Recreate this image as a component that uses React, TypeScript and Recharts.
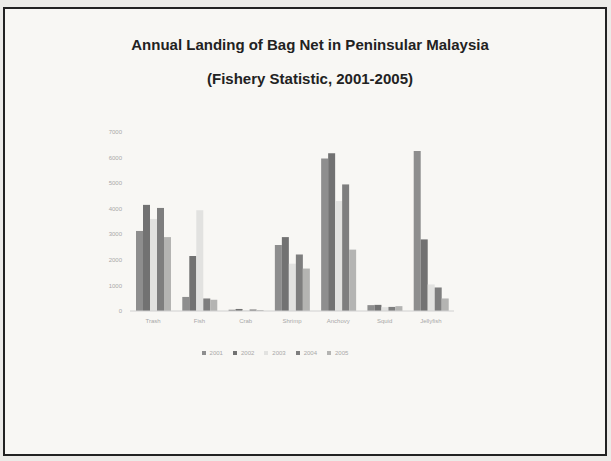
import React from "react";
import { BarChart, Bar, XAxis, YAxis, Legend } from "recharts";

const categories = ["Trash", "Fish", "Crab", "Shrimp", "Anchovy", "Squid", "Jellyfish"];
const y2001 = [3130, 550, 50, 2580, 5960, 230, 6260];
const y2002 = [4150, 2150, 80, 2890, 6170, 240, 2800];
const y2003 = [3600, 3940, 30, 1850, 4300, 150, 1040];
const y2004 = [4030, 490, 60, 2210, 4950, 160, 920];
const y2005 = [2890, 440, 40, 1660, 2400, 190, 490];
const yTicks = [0, 1000, 2000, 3000, 4000, 5000, 6000, 7000];

const series = [
  { key: "2001", values: y2001, color: "#8e8e8e" },
  { key: "2002", values: y2002, color: "#727272" },
  { key: "2003", values: y2003, color: "#e2e2e0" },
  { key: "2004", values: y2004, color: "#7e7e7e" },
  { key: "2005", values: y2005, color: "#b4b4b2" },
];

const data = categories.map((name, i) => {
  const row: Record<string, string | number> = { name };
  series.forEach((s) => (row[s.key] = s.values[i]));
  return row;
});

const tickStyle = { fontSize: 6, fill: "#a8a8a8", fontFamily: "Liberation Sans, Arial, sans-serif" };

export default function App() {
  return (
    <div style={{ position: "absolute", left: 0, top: 0, width: 611, height: 461, background: "#ecebe8" }}>
      <div
        style={{
          position: "absolute",
          left: 3,
          top: 7,
          width: 600,
          height: 445,
          border: "2px solid #222",
          background: "#f8f7f4",
          fontFamily: "Liberation Sans, Arial, sans-serif",
        }}
      >
        <div style={{ position: "absolute", top: 27, left: 0, width: 610, textAlign: "center", fontWeight: "bold", fontSize: 15, color: "#222" }}>
          Annual Landing of Bag Net in Peninsular Malaysia
        </div>
        <div style={{ position: "absolute", top: 61, left: 0, width: 610, textAlign: "center", fontWeight: "bold", fontSize: 15, color: "#222" }}>
          (Fishery Statistic, 2001-2005)
        </div>
        <BarChart
          width={600}
          height={445}
          data={data}
          margin={{ top: 123, right: 151, left: 95, bottom: 117 }}
          barCategoryGap={6}
          barGap={0}
        >
          <XAxis
            dataKey="name"
            tick={tickStyle}
            tickLine={false}
            axisLine={{ stroke: "#d0d0d0" }}
            height={20}
          />
          <YAxis
            domain={[0, 7000]}
            ticks={yTicks}
            tick={tickStyle}
            tickLine={false}
            axisLine={false}
            width={30}
          />
          <Legend
            iconSize={4}
            iconType="square"
            formatter={(value) => <span style={{ color: "#a8a8a8" }}>{value}</span>}
            wrapperStyle={{ top: 341, left: 195, width: 160, fontSize: 6 }}
          />
          {series.map((s) => (
            <Bar key={s.key} dataKey={s.key} fill={s.color} isAnimationActive={false} />
          ))}
        </BarChart>
      </div>
    </div>
  );
}
